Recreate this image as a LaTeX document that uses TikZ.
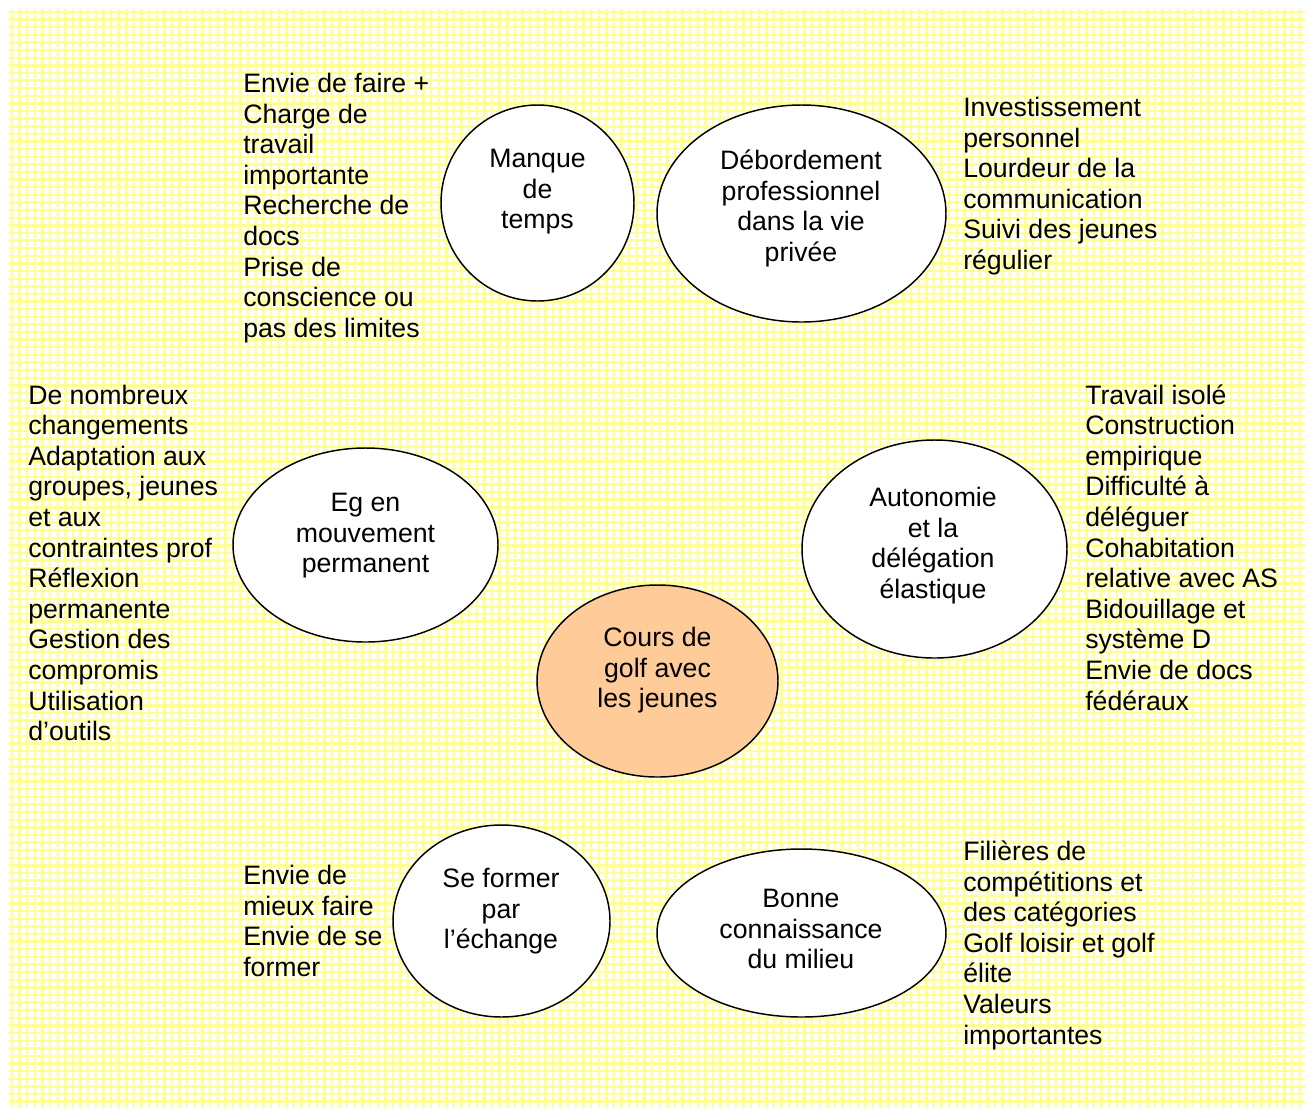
\documentclass[tikz,border=0pt]{standalone}
\usepackage{fontspec}
\setmainfont{Liberation Sans}
\usetikzlibrary{shapes.geometric}
\definecolor{gridy}{RGB}{255,255,150}
\definecolor{peach}{RGB}{255,204,153}
\tikzset{
  gridline/.style={draw=gridy, line width=1.8pt},
  bub/.style={ellipse, draw=black, line width=1.1pt, fill=white, inner sep=0pt},
  txt/.style={inner sep=0pt, font=\fontsize{20pt}{22.95pt}\selectfont},
}
% #1 name, #2 x, #3 first baseline y, #4 anchor, #5 lines
\newcommand\txtlines[5]{%
  \foreach \t [count=\i] in {#5}{%
    \node[txt, anchor=#4] (#1-\i) at (#2, #3+30.6*\i-30.6) {\t};
  }}
\begin{document}
\begin{tikzpicture}[x=0.75pt,y=-0.75pt]
\useasboundingbox (0,0) rectangle (1311,1108);
\fill[white] (0,0) rectangle (1311,1108);
% background grid
\foreach \gx in {12,19.62,...,1306}{\draw[gridline] (\gx,9) -- (\gx,1108);}
\foreach \gy in {12,19.62,...,1108}{\draw[gridline] (9,\gy) -- (1305,\gy);}

% bubbles
\node[bub, minimum width=193*0.75pt, minimum height=196*0.75pt] (manque) at (537.5,203) {};
\node[bub, minimum width=289*0.75pt, minimum height=217*0.75pt] (debord) at (801.5,213.5) {};
\node[bub, minimum width=265*0.75pt, minimum height=194*0.75pt] (eg) at (365.5,545) {};
\node[bub, minimum width=265*0.75pt, minimum height=218*0.75pt] (auto) at (934.5,549) {};
\node[bub, fill=peach, minimum width=241*0.75pt, minimum height=192*0.75pt] (cours) at (657.5,681) {};
\node[bub, minimum width=217*0.75pt, minimum height=192*0.75pt] (former) at (501.5,921) {};
\node[bub, minimum width=289*0.75pt, minimum height=168*0.75pt] (bonne) at (801.5,933) {};

% bubble texts
\txtlines{manque-t}{537.5}{167.5}{base}{Manque,de,temps}
\txtlines{debord-t}{801}{169.5}{base}{Débordement,professionnel,dans la vie,privée}
\txtlines{eg-t}{365.5}{511.5}{base}{Eg en,mouvement,permanent}
\txtlines{auto-t}{933}{506.5}{base}{Autonomie,et la,délégation,élastique}
\txtlines{cours-t}{657.5}{646.5}{base}{Cours de,golf avec,les jeunes}
\txtlines{former-t}{501}{887.5}{base}{Se former,par,l’échange}
\txtlines{bonne-t}{801}{907.5}{base}{Bonne,connaissance,du milieu}

% side lists
\txtlines{tl}{243}{92.5}{base west}{Envie de faire +,Charge de,travail,importante,Recherche de,docs,Prise de,conscience ou,pas des limites}
\txtlines{tr}{963}{116.5}{base west}{Investissement,personnel,Lourdeur de la,communication,Suivi des jeunes,régulier}
\txtlines{l}{28}{404}{base west}{De nombreux,changements,Adaptation aux,{groupes, jeunes},et aux,contraintes prof,Réflexion,permanente,Gestion des,compromis,Utilisation,d’outils}
\txtlines{r}{1085}{404}{base west}{Travail isolé,Construction,empirique,Difficulté à,déléguer,Cohabitation,relative avec AS,Bidouillage et,système D,Envie de docs,fédéraux}
\txtlines{bl}{243}{884.5}{base west}{Envie de,mieux faire,Envie de se,former}
\txtlines{br}{963}{860.5}{base west}{Filières de,compétitions et,des catégories,Golf loisir et golf,élite,Valeurs,importantes}
\end{tikzpicture}
\end{document}
